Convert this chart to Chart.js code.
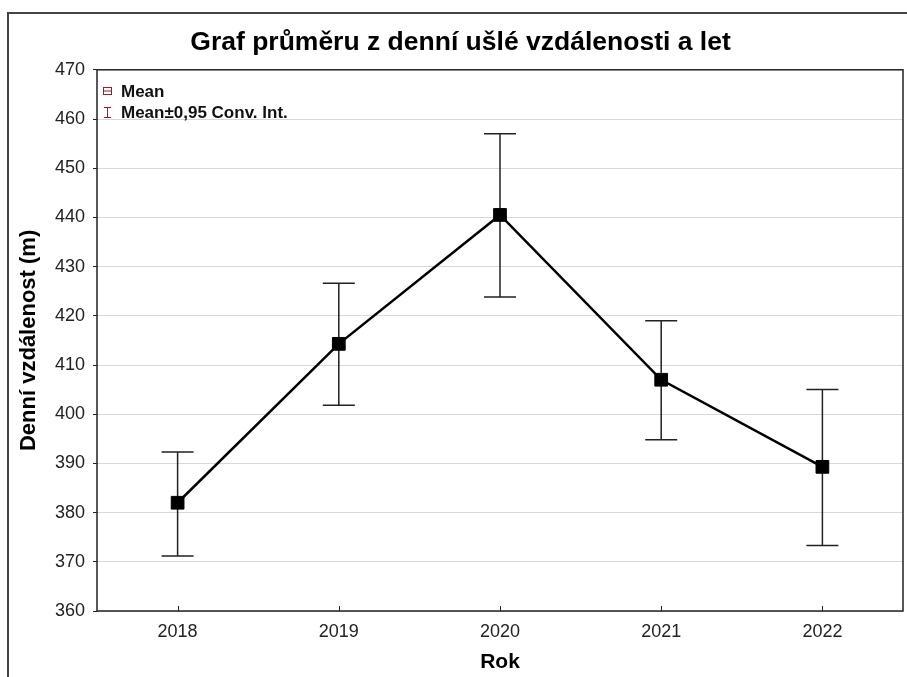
<!DOCTYPE html>
<html>
<head>
<meta charset="utf-8">
<script src="https://cdn.jsdelivr.net/npm/chart.js@4"></script>
<style>
  html, body { margin: 0; padding: 0; background: #fff; }
  #wrap { width: 907px; height: 677px; }
</style>
</head>
<body>
<div id="wrap"><canvas id="myChart" width="907" height="677"></canvas></div>
<script>
const years = ['2018', '2019', '2020', '2021', '2022'];
const means = [382.0, 414.3, 440.5, 407.0, 389.3];
const ciLow = [371.2, 401.8, 423.8, 394.8, 373.3];
const ciHigh = [392.3, 426.6, 457.0, 419.0, 405.0];
const legendLabels = ['Mean', 'Mean\u00b10,95 Conv. Int.'];

const FONT = '"Liberation Sans", Arial, sans-serif';

// outer frame, plot box, inward x ticks
const framePlugin = {
  id: 'frame',
  beforeDraw(chart) {
    const ctx = chart.ctx;
    ctx.save();
    ctx.fillStyle = '#fff';
    ctx.fillRect(0, 0, chart.width, chart.height);
    ctx.strokeStyle = '#444';
    ctx.lineWidth = 2;
    ctx.beginPath();
    ctx.moveTo(8, chart.height);
    ctx.lineTo(8, 13);
    ctx.lineTo(chart.width, 13);
    ctx.stroke();
    ctx.restore();
  },
  afterDraw(chart) {
    const ctx = chart.ctx;
    const a = chart.chartArea;
    const x = chart.scales.x;
    ctx.save();
    ctx.strokeStyle = '#222';
    ctx.lineWidth = 1.5;
    ctx.strokeRect(a.left, a.top, a.right - a.left, a.bottom - a.top);
    ctx.lineWidth = 1;
    years.forEach((y, i) => {
      const px = Math.round(x.getPixelForValue(i)) + 0.5;
      ctx.beginPath();
      ctx.moveTo(px, a.bottom);
      ctx.lineTo(px, a.bottom - 5);
      ctx.stroke();
    });
    ctx.restore();
  }
};

// confidence interval whiskers
const errorBars = {
  id: 'errorBars',
  beforeDatasetsDraw(chart) {
    const ctx = chart.ctx;
    const x = chart.scales.x, y = chart.scales.y;
    ctx.save();
    ctx.strokeStyle = '#222';
    ctx.lineWidth = 1.5;
    means.forEach((m, i) => {
      const px = x.getPixelForValue(i);
      const top = y.getPixelForValue(ciHigh[i]);
      const bot = y.getPixelForValue(ciLow[i]);
      ctx.beginPath();
      ctx.moveTo(px, top); ctx.lineTo(px, bot);
      ctx.moveTo(px - 16, top); ctx.lineTo(px + 16, top);
      ctx.moveTo(px - 16, bot); ctx.lineTo(px + 16, bot);
      ctx.stroke();
    });
    ctx.restore();
  }
};

// legend in the top-left corner of the plot
const cornerLegend = {
  id: 'cornerLegend',
  afterDraw(chart) {
    const ctx = chart.ctx;
    const a = chart.chartArea;
    const ix = a.left + 10.5;
    ctx.save();
    ctx.strokeStyle = '#a01c1c';
    ctx.lineWidth = 1;
    // mean symbol
    ctx.strokeRect(ix - 4, 87.5, 8, 7);
    ctx.beginPath();
    ctx.moveTo(ix - 4, 91); ctx.lineTo(ix + 4, 91);
    // interval symbol
    ctx.moveTo(ix - 3.5, 107.5); ctx.lineTo(ix + 3.5, 107.5);
    ctx.moveTo(ix, 107.5); ctx.lineTo(ix, 117.5);
    ctx.moveTo(ix - 3.5, 117.5); ctx.lineTo(ix + 3.5, 117.5);
    ctx.stroke();
    ctx.fillStyle = '#111';
    ctx.font = 'bold 17px ' + FONT;
    ctx.textBaseline = 'middle';
    ctx.fillText(legendLabels[0], a.left + 24, 92.5);
    ctx.fillText(legendLabels[1], a.left + 24, 113);
    ctx.restore();
  }
};

const config = {
  type: 'line',
  data: {
    labels: years,
    datasets: [{
      label: legendLabels[0],
      data: means,
      borderColor: '#000',
      borderWidth: 2.5,
      backgroundColor: '#000',
      pointStyle: 'rect',
      pointRadius: 9,
      pointBorderWidth: 1,
      pointBackgroundColor: '#000',
      tension: 0
    }]
  },
  options: {
    responsive: false,
    animation: false,
    layout: { autoPadding: false, padding: { left: 18, right: 4, top: 0, bottom: 0 } },
    plugins: {
      legend: { display: false },
      tooltip: { enabled: false },
      title: {
        display: true,
        text: 'Graf průměru z denní ušlé vzdálenosti a let',
        color: '#000',
        font: { family: FONT, size: 26.5, weight: 'bold' },
        padding: { top: 27, bottom: 11 }
      }
    },
    scales: {
      x: {
        type: 'category',
        offset: true,
        afterFit(s) { s.height = 66; s.paddingLeft = 0; s.paddingRight = 0; },
        grid: { display: false, drawTicks: false },
        border: { display: false },
        ticks: {
          color: '#222',
          padding: 10,
          font: { family: FONT, size: 18 }
        },
        title: {
          display: true,
          text: 'Rok',
          color: '#000',
          font: { family: FONT, size: 21, weight: 'bold' },
          padding: { top: 0, bottom: 2 }
        }
      },
      y: {
        min: 360,
        max: 470,
        afterFit(s) { s.width = 79; },
        ticks: {
          stepSize: 10,
          color: '#222',
          padding: 8,
          font: { family: FONT, size: 18 }
        },
        grid: {
          color: '#d8d8d8',
          lineWidth: 1,
          tickLength: 4,
          tickColor: '#222'
        },
        border: { display: false },
        title: {
          display: true,
          text: 'Denní vzdálenost (m)',
          color: '#000',
          font: { family: FONT, size: 22, weight: 'bold' },
          padding: { top: -2, bottom: 0 }
        }
      }
    }
  },
  plugins: [framePlugin, errorBars, cornerLegend]
};

const myChart = new Chart(document.getElementById('myChart'), config);
</script>
</body>
</html>
